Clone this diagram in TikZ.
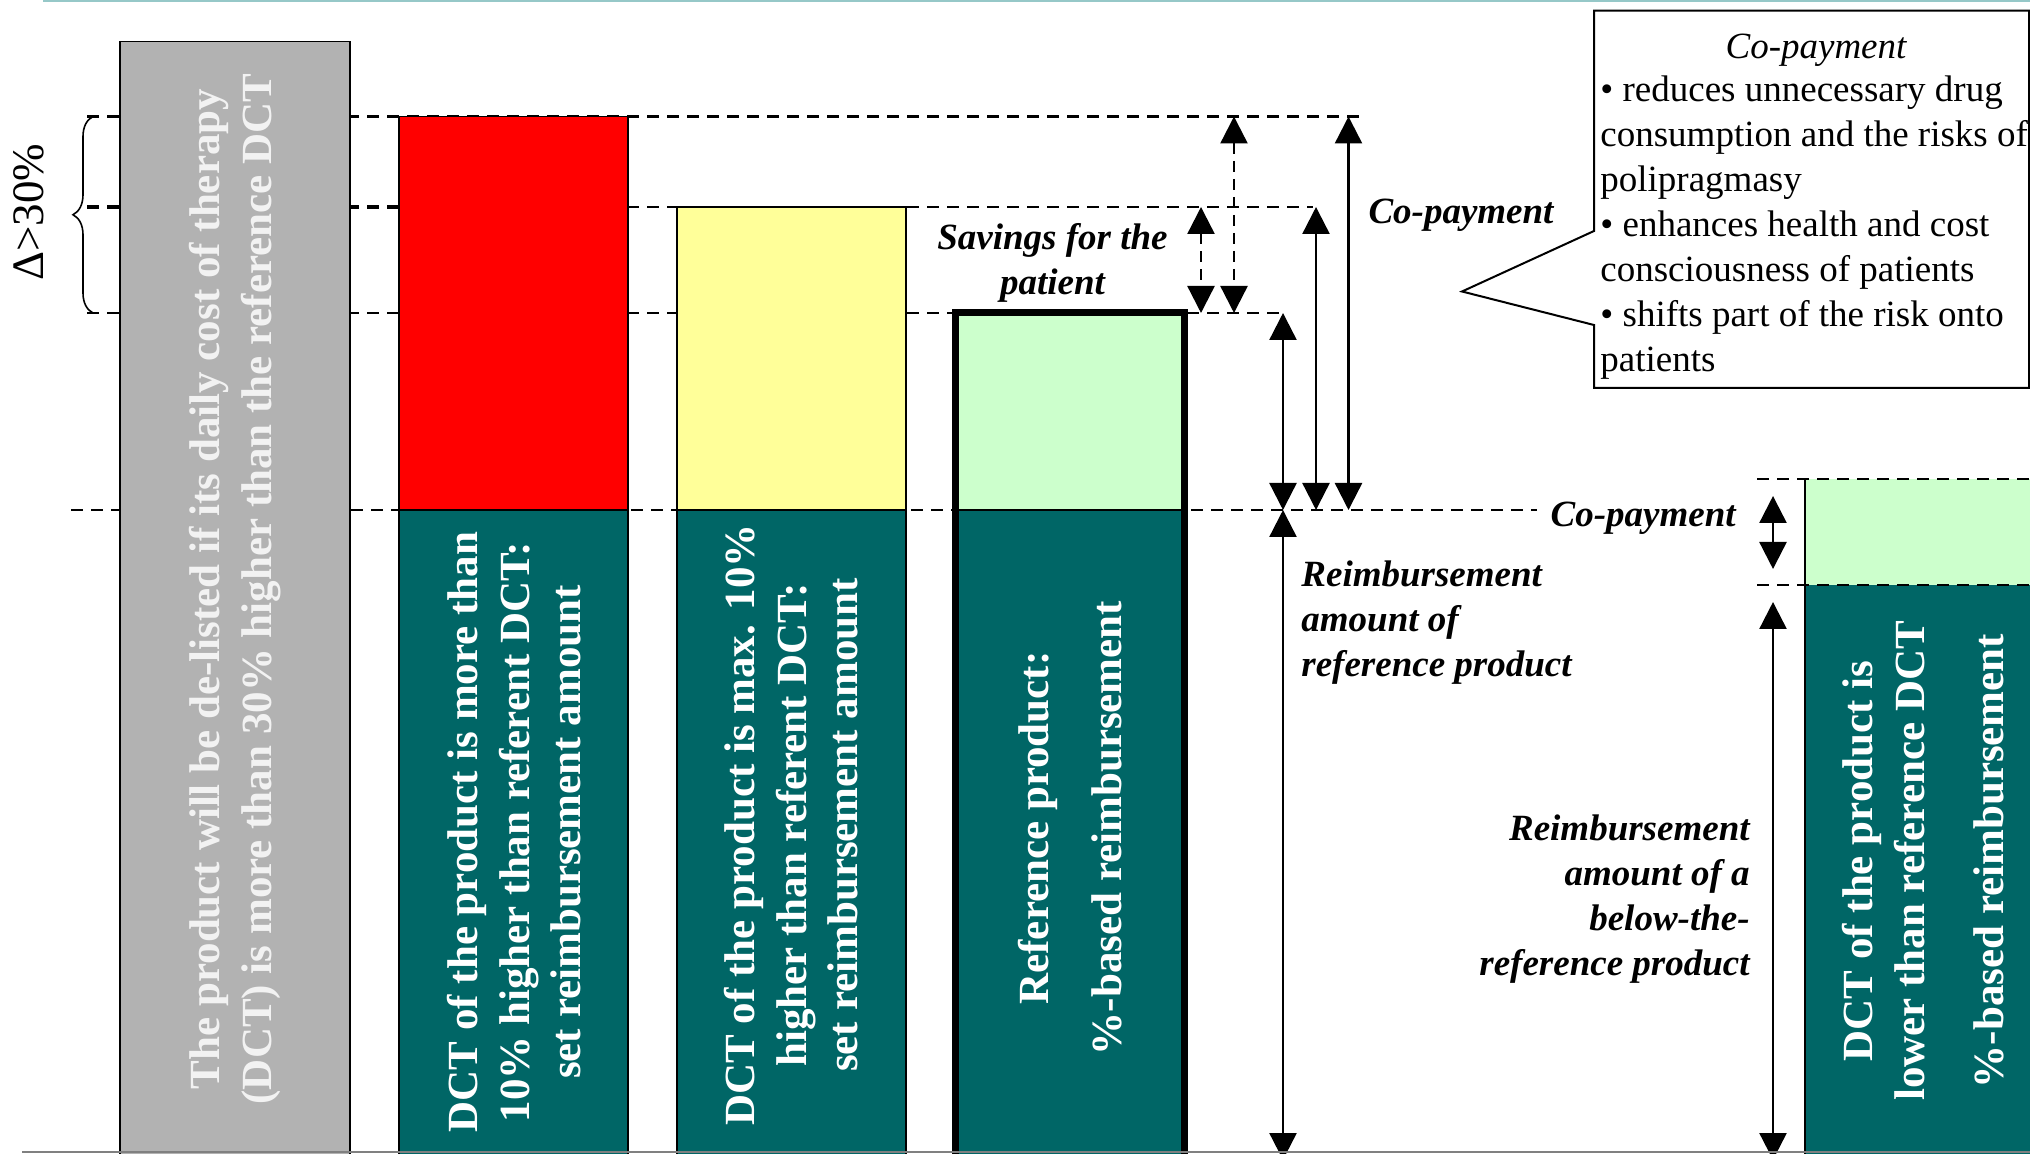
\documentclass[tikz,border=0pt]{standalone}
\usepackage{fontspec}
\setmainfont{Liberation Serif}
\usetikzlibrary{arrows.meta,decorations.pathreplacing}
\definecolor{barteal}{RGB}{0,102,102}
\definecolor{bargray}{RGB}{178,178,178}
\definecolor{barred}{RGB}{255,0,0}
\definecolor{baryellow}{RGB}{255,255,153}
\definecolor{bargreen}{RGB}{204,255,204}
\definecolor{rulecol}{RGB}{150,200,200}
\definecolor{graytext}{RGB}{242,242,242}
\begin{document}
\begin{tikzpicture}[x=0.5pt,y=-0.5pt,
  barframe/.style={draw=black,line width=0.7pt},
  level/.style={line width=1.3pt,dash pattern=on 6pt off 4pt},
  dimline/.style={{Triangle[width=13.5pt,length=13.5pt]}-{Triangle[width=13.5pt,length=13.5pt]},line width=1.2pt},
  dimdash/.style={dimline,dash pattern=on 5.5pt off 3.5pt},
  bartext/.style={rotate=90,text=white,align=center,inner sep=0pt,font=\fontsize{21.5}{25.7}\selectfont\bfseries},
  lbl/.style={inner sep=0pt,font=\fontsize{18.5}{22.5}\selectfont\bfseries\itshape},
  note/.style={inner sep=0pt,font=\fontsize{18.5}{22.5}\selectfont}]
\useasboundingbox (0,0) rectangle (2030,1154);
\clip (0,0) rectangle (2030,1154);

% price levels
\def\yA{116.5}
\def\yB{207}
\def\yC{313}
\def\yD{510}

% dashed level lines (bars are drawn on top of them)
\draw[level] (87,\yA) -- (1365,\yA);
\draw[level] (87,\yB) -- (1313,\yB);
\draw[level,line width=1.8pt] (87,\yB) -- (400,\yB);
\draw[level] (87,\yC) -- (1283,\yC);
\draw[level] (71,\yD) -- (1537,\yD);

% de-listed product
\filldraw[fill=bargray,barframe] (120,41.5) rectangle (350,1170);
\node[bartext,text=graytext] (tgray) at (235,589)
  {The product will be de-listed if its daily cost of therapy\\(DCT) is more than 30\% higher than the reference DCT};

% more than 10 % above reference
\fill[barred] (399,\yA) rectangle (628,\yD);
\fill[barteal] (399,\yD) rectangle (628,1170);
\draw[barframe] (399,1170) -- (399,\yA) -- (628,\yA) -- (628,1170) (399,\yD) -- (628,\yD);
\node[bartext] (tred) at (514.5,832)
  {DCT of the product is more than\\10\% higher than referent DCT:\\set reimbursement amount};

% at most 10 % above reference
\fill[baryellow] (677,\yB) rectangle (906,\yD);
\fill[barteal] (677,\yD) rectangle (906,1170);
\draw[barframe] (677,1170) -- (677,\yB) -- (906,\yB) -- (906,1170) (677,\yD) -- (906,\yD);
\node[bartext] (tyellow) at (791.5,825)
  {DCT of the product is max. 10\%\\higher than referent DCT:\\set reimbursement amount};

% reference product
\fill[bargreen] (955.5,\yC) rectangle (1184.5,\yD);
\fill[barteal] (955.5,\yD) rectangle (1184.5,1170);
\draw[barframe] (955.5,\yD) -- (1184.5,\yD);
\draw[line width=3.5pt] (955.5,1170) -- (955.5,\yC) -- (1184.5,\yC) -- (1184.5,1170);
\node[bartext] (tref) at (1070,828)
  {Reference product:\\[11pt]\%-based reimbursement};

% below-the-reference product
\fill[bargreen] (1805,479) rectangle (2040,585);
\fill[barteal] (1805,585) rectangle (2040,1170);
\draw[barframe] (1805,479) -- (1805,1170);
\draw[level] (1757,479) -- (2040,479);
\draw[level] (1757,585) -- (2040,585);
\node[bartext] (tbelow) at (1923.5,861)
  {DCT of the product is\\lower than reference DCT\\[14pt]\%-based reimbursement};

% brace and its label
\draw[line width=0.8pt,decorate,decoration={brace,amplitude=10pt}] (93,\yC) -- (93,\yA);
\node[rotate=90,inner sep=0pt,font=\fontsize{22.5}{27}\selectfont] (delta) at (29,212) {Δ>30\%};

% dimension end points
\coordinate (sA) at (1201,\yB);  \coordinate (sB) at (1201,\yC);
\coordinate (dA) at (1234,\yA);  \coordinate (dB) at (1234,\yC);
\coordinate (cA) at (1283,\yC);  \coordinate (cB) at (1283,\yD);
\coordinate (eA) at (1316,\yB);  \coordinate (eB) at (1316,\yD);
\coordinate (fA) at (1348.5,\yA);\coordinate (fB) at (1348.5,\yD);
\coordinate (rA) at (1283,\yD);  \coordinate (rB) at (1283,1160);
\coordinate (kA) at (1773,496);  \coordinate (kB) at (1773,569);
\coordinate (lA) at (1773,602);  \coordinate (lB) at (1773,1160);

\draw[dimdash] (sA) -- (sB);
\draw[dimdash] (dA) -- (dB);
\draw[dimline] (cA) -- (cB);
\draw[dimline] (eA) -- (eB);
\draw[dimline] (fA) -- (fB);
\draw[dimline] (rA) -- (rB);
\draw[dimline] (kA) -- (kB);
\draw[dimline] (lA) -- (lB);

% labels
\node[lbl,align=center] (savings) at (1052.5,263) {Savings for the\\patient};
\node[lbl] (copayA) at (1461,215) {Co-payment};
\node[lbl,anchor=east] (copayB) at (1736,518) {Co-payment};
\node[lbl,align=left,anchor=west] (reimbA) at (1301,623) {Reimbursement\\amount of\\reference product};
\node[lbl,align=right,anchor=east] (reimbB) at (1750,899) {Reimbursement\\amount of a\\below-the-\\reference product};

% call-out box
\draw[line width=1pt,fill=white] (1594,10.7) -- (2029,10.7) -- (2029,388) -- (1594,388)
  -- (1594,325) -- (1462,291.5) -- (1594,231) -- cycle;
\node[note,font=\fontsize{18.5}{22.5}\selectfont\itshape] (cptitle) at (1816,50) {Co-payment};
\node[note,align=left,anchor=west] (cplist) at (1600,228)
  {• reduces unnecessary drug\\consumption and the risks of\\polipragmasy\\• enhances health and cost\\consciousness of patients\\• shifts part of the risk onto\\patients};

% frame rules
\draw[rulecol,line width=1.2pt] (43,1) -- (2030,1);
\draw[gray,line width=0.8pt] (22,1152) -- (2030,1152);
\end{tikzpicture}
\end{document}
